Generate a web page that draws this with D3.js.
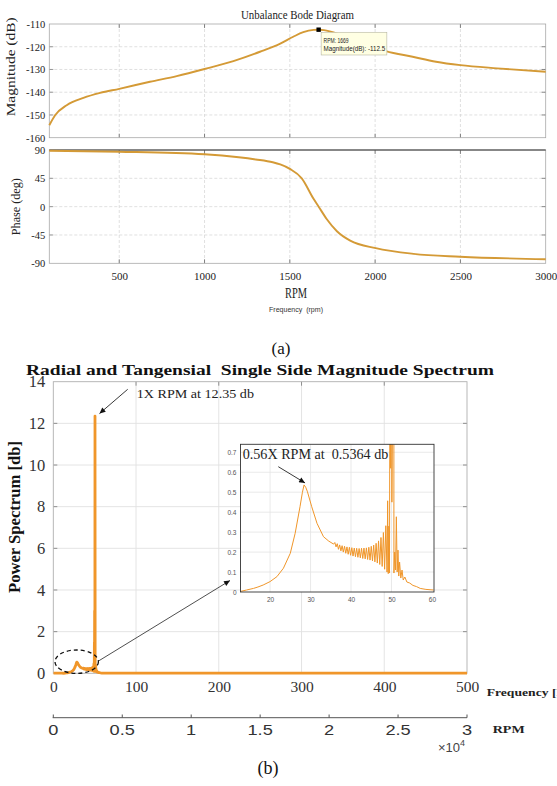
<!DOCTYPE html>
<html><head><meta charset="utf-8">
<script src="https://cdn.jsdelivr.net/npm/d3@7"></script>
<style>
body{margin:0;background:#fff;}
svg{display:block;}
</style></head><body>
<svg id="chart" width="557" height="786"></svg>
<script>
// ---------------- DATA ----------------
// (a) Unbalance Bode diagram
const magPoints = [
  [90,-154.5],[124,-150.1],[192,-145.7],[290,-142.5],[388,-140.3],[500,-138.5],
  [680,-135.4],[837,-132.9],[1000,-129.8],[1169,-126.3],[1325,-122.2],[1444,-118.6],
  [1520,-115.6],[1579,-113.6],[1640,-112.6],[1669,-112.5],[1700,-112.7],[1800,-114.8],
  [1900,-117.6],[2000,-120.3],[2064,-121.9],[2220,-124.4],[2357,-126.6],[2500,-128.1],
  [2715,-129.5],[3000,-131.0]
];
const phasePoints = [
  [90,88.9],[500,87.3],[1000,83.2],[1200,78.5],[1300,75],[1400,70.5],[1444,67],[1500,60],
  [1570,45],[1640,12],[1669,0],[1717,-20],[1776,-39],[1854,-54],[2004,-66],
  [2225,-75],[2498,-79.5],[3000,-83.5]
];
const bodeXTicks = [500,1000,1500,2000,2500,3000];
const magTicks = [-160,-150,-140,-130,-120,-110];
const phaseTicks = [-90,-45,0,45,90];
const peakRPM = 1669, peakDB = -112.5;

// (b) Single side magnitude spectrum [Hz, db]
const spectrumPoints = [
  [0,0.005],[5,0.005],[10,0.005],[12.7,0.003],[14.2,0.010],[15.9,0.018],[17.0,0.025],
  [18.3,0.035],[20.0,0.052],[21.7,0.077],[23.3,0.119],[25.0,0.194],[26.2,0.294],
  [27.4,0.427],[28.0,0.500],[28.4,0.5364],[28.8,0.525],[29.2,0.505],[30.3,0.427],
  [31.6,0.344],[33.2,0.277],[34.5,0.255],[35.7,0.240],
  [36.0,0.248],[36.3,0.226],[36.6,0.242],[36.9,0.214],[37.2,0.236],[37.5,0.206],
  [37.8,0.232],[38.1,0.200],[38.4,0.229],[38.7,0.194],[39.0,0.226],[39.3,0.189],
  [39.6,0.224],[39.9,0.184],[40.2,0.222],[40.5,0.180],[40.8,0.220],[41.1,0.177],
  [41.4,0.219],[41.7,0.174],[42.0,0.218],[42.3,0.171],[42.6,0.219],[42.9,0.168],
  [43.2,0.220],[43.5,0.166],[43.8,0.221],[44.1,0.163],[44.4,0.224],[44.7,0.160],
  [45.0,0.229],[45.3,0.156],[45.6,0.235],[45.9,0.151],[46.2,0.244],[46.5,0.145],
  [46.8,0.256],[47.1,0.138],[47.4,0.273],[47.7,0.128],[48.0,0.298],[48.3,0.114],
  [48.6,0.332],[48.9,0.100],[49.05,0.457],[49.2,0.092],[49.35,0.330],[49.5,0.095],
  [49.65,1.5],[49.8,0.62],[49.95,3.0],[50.1,0.45],[50.25,0.9],[50.4,12.35],
  [50.6,0.095],[50.8,0.200],[51.0,0.110],[51.2,0.377],[51.4,0.100],[51.6,0.210],
  [51.8,0.080],[52.0,0.150],[52.3,0.070],[52.6,0.110],[52.9,0.060],[53.3,0.075],
  [53.8,0.050],[54.5,0.045],[55.3,0.033],[56.2,0.027],[57.1,0.018],[58.5,0.013],
  [60.4,0.010],[62,0.008],[70,0.005],[100,0.004],[200,0.004],[300,0.004],[400,0.004],[500,0.004]
];
const specXTicks = [0,100,200,300,400,500];
const specYTicks = [0,2,4,6,8,10,12,14];
const rpmTicks = [0,0.5,1,1.5,2,2.5,3];
const insetXTicks = [20,30,40,50,60];
const insetYTicks = [0,0.1,0.2,0.3,0.4,0.5,0.6,0.7];
const peak1X = 12.35, peak1XHz = 50.4;
const peakHalf = 0.5364, peakHalfHz = 28.4;

// ---------------- DRAW ----------------
const SERIF = '"Liberation Serif","Times New Roman",serif';
const SANS = '"Liberation Sans",Arial,sans-serif';
const COLOR_TOP = "#D49A36";
const COLOR_BOT = "#F0962A";
const svg = d3.select("#chart");

const defs = svg.append("defs");
defs.append("marker").attr("id","arr").attr("viewBox","0 0 10 10")
  .attr("refX",10).attr("refY",5).attr("markerUnits","userSpaceOnUse")
  .attr("markerWidth",7).attr("markerHeight",6).attr("orient","auto")
  .append("path").attr("d","M0,0.5 L10,5 L0,9.5 z").attr("fill","#111");

function fit(sel, len){ return sel.attr("textLength",len).attr("lengthAdjust","spacingAndGlyphs"); }
function stretch(sel, k){
  sel.each(function(){ const w=this.getComputedTextLength();
    d3.select(this).attr("textLength",w*k).attr("lengthAdjust","spacingAndGlyphs"); });
}
function styleAxis(a, size, fam, fill){
  a.select(".domain").remove();
  a.attr("font-family",null).attr("font-size",null);
  a.selectAll("text").attr("font-size",size).style("font-family",fam).attr("fill",fill);
}

// ===== (a) =====
const xA = d3.scaleLinear().domain([90,3000]).range([49.3,545.7]);
const yM = d3.scaleLinear().domain([-160,-110]).range([137.7,24]);
const yP = d3.scaleLinear().domain([-90,90]).range([263.3,150]);
const [ax0, ax1] = xA.range();

function bodePanel(yS, yTicks, darkTop){
  const [yb, yt] = yS.range();
  const g = svg.append("g");
  g.append("rect").attr("x",ax0).attr("y",yt).attr("width",ax1-ax0).attr("height",yb-yt).attr("fill","#fff");
  g.selectAll(".vg").data(bodeXTicks.filter(d=>d<3000)).join("line")
    .attr("x1",d=>xA(d)).attr("x2",d=>xA(d)).attr("y1",yt).attr("y2",yb)
    .attr("stroke","#d2d2d2").attr("stroke-width",0.7).attr("stroke-dasharray","3,2");
  g.selectAll(".hg").data(yTicks.slice(1,-1)).join("line")
    .attr("x1",ax0).attr("x2",ax1).attr("y1",d=>yS(d)).attr("y2",d=>yS(d))
    .attr("stroke","#d2d2d2").attr("stroke-width",0.7).attr("stroke-dasharray","3,2");
  const tk = bodeXTicks.filter(d=>d<3000);
  g.selectAll(".tb").data(tk).join("line").attr("x1",d=>xA(d)).attr("x2",d=>xA(d))
    .attr("y1",yb).attr("y2",yb-4).attr("stroke","#555").attr("stroke-width",0.7);
  g.selectAll(".tt").data(tk).join("line").attr("x1",d=>xA(d)).attr("x2",d=>xA(d))
    .attr("y1",yt).attr("y2",yt+4).attr("stroke","#555").attr("stroke-width",0.7);
  g.selectAll(".tr").data(yTicks.slice(1,-1)).join("line").attr("x1",ax1).attr("x2",ax1-4)
    .attr("y1",d=>yS(d)).attr("y2",d=>yS(d)).attr("stroke","#555").attr("stroke-width",0.7);
  g.selectAll(".tl").data(yTicks.slice(1,-1)).join("line").attr("x1",ax0).attr("x2",ax0+4)
    .attr("y1",d=>yS(d)).attr("y2",d=>yS(d)).attr("stroke","#777").attr("stroke-width",0.7);
  g.append("rect").attr("x",ax0).attr("y",yt).attr("width",ax1-ax0).attr("height",yb-yt)
    .attr("fill","none").attr("stroke","#a8a8a8").attr("stroke-width",0.8);
  if (darkTop) g.append("line").attr("x1",ax0).attr("x2",ax1).attr("y1",yt).attr("y2",yt)
    .attr("stroke","#333").attr("stroke-width",1);
  g.append("g").attr("transform",`translate(${ax0},0)`)
    .call(d3.axisLeft(yS).tickValues(yTicks).tickSize(0).tickPadding(4).tickFormat(d=>String(d)))
    .call(a=>styleAxis(a,10.5,SERIF,"#222"));
  return g;
}
bodePanel(yM, magTicks, false);
bodePanel(yP, phaseTicks, true);

svg.append("path").datum(magPoints)
  .attr("d", d3.line().x(d=>xA(d[0])).y(d=>yM(d[1])).curve(d3.curveMonotoneX))
  .attr("fill","none").attr("stroke",COLOR_TOP).attr("stroke-width",1.9);
svg.append("path").datum(phasePoints)
  .attr("d", d3.line().x(d=>xA(d[0])).y(d=>yP(d[1])).curve(d3.curveMonotoneX))
  .attr("fill","none").attr("stroke",COLOR_TOP).attr("stroke-width",1.9);

svg.append("g").attr("transform",`translate(0,${yP.range()[0]})`)
  .call(d3.axisBottom(xA).tickValues(bodeXTicks).tickSize(0).tickPadding(9).tickFormat(d=>String(d)))
  .call(a=>styleAxis(a,11,SERIF,"#222"));

fit(svg.append("text").attr("x",(ax0+ax1)/2).attr("y",19).attr("text-anchor","middle")
  .style("font-family",SERIF).attr("font-size",13).attr("fill","#222").text("Unbalance Bode Diagram"),113);
fit(svg.append("text").attr("transform",`translate(15,${(yM(-110)+yM(-160))/2 - 14}) rotate(-90)`)
  .attr("text-anchor","middle").style("font-family",SERIF).attr("font-size",13).attr("fill","#222")
  .text("Magnitude (dB)"),99);
fit(svg.append("text").attr("transform",`translate(20,${yP(0)}) rotate(-90)`)
  .attr("text-anchor","middle").style("font-family",SERIF).attr("font-size",13).attr("fill","#222")
  .text("Phase (deg)"),57);
fit(svg.append("text").attr("x",296).attr("y",298).attr("text-anchor","middle")
  .style("font-family",SERIF).attr("font-size",14).attr("fill","#222").text("RPM"),22);
fit(svg.append("text").attr("x",296).attr("y",312.3).attr("text-anchor","middle")
  .style("font-family",SANS).attr("font-size",6.5).attr("fill","#333").style("white-space","pre").text("Frequency  (rpm)"),54);

// data tip
svg.append("rect").attr("x",xA(peakRPM)-2.2).attr("y",yM(peakDB)-2.2).attr("width",4.4).attr("height",4.4).attr("fill","#000");
svg.append("rect").attr("x",xA(peakRPM)+2.5).attr("y",yM(peakDB)+2.6).attr("width",65.7).attr("height",22.7)
  .attr("fill","#ffffe3").attr("stroke","#b5b5a0").attr("stroke-width",0.6);
fit(svg.append("text").attr("x",xA(peakRPM)+4.9).attr("y",yM(peakDB)+13.4)
  .style("font-family",SANS).attr("font-size",6.3).attr("fill","#222").text("RPM: " + peakRPM),25);
fit(svg.append("text").attr("x",xA(peakRPM)+4.9).attr("y",yM(peakDB)+21.8)
  .style("font-family",SANS).attr("font-size",6.3).attr("fill","#222").text("Magnitude(dB): " + peakDB),61.6);

svg.append("text").attr("x",281).attr("y",353.5).attr("text-anchor","middle")
  .style("font-family",SERIF).attr("font-size",17).attr("fill","#111").text("(a)");

// ===== (b) =====
const xB = d3.scaleLinear().domain([0,500]).range([53.3,467]);
const yB = d3.scaleLinear().domain([0,14]).range([673.3,381.7]);
const [bx0,bx1] = xB.range(), [by0,by1] = yB.range();
const gb = svg.append("g");
gb.append("rect").attr("x",bx0).attr("y",by1).attr("width",bx1-bx0).attr("height",by0-by1).attr("fill","#fff");
gb.selectAll(".vg").data(specXTicks.slice(1,-1)).join("line")
  .attr("x1",d=>xB(d)).attr("x2",d=>xB(d)).attr("y1",by1).attr("y2",by0)
  .attr("stroke","#e1e1e1").attr("stroke-width",0.9);
gb.selectAll(".hg").data(specYTicks.slice(1,-1)).join("line")
  .attr("x1",bx0).attr("x2",bx1).attr("y1",d=>yB(d)).attr("y2",d=>yB(d))
  .attr("stroke","#e1e1e1").attr("stroke-width",0.9);
gb.selectAll(".tr").data(specYTicks.slice(1,-1)).join("line").attr("x1",bx1).attr("x2",bx1-4)
  .attr("y1",d=>yB(d)).attr("y2",d=>yB(d)).attr("stroke","#777").attr("stroke-width",0.8);
gb.selectAll(".tl").data(specYTicks.slice(1,-1)).join("line").attr("x1",bx0).attr("x2",bx0+4)
  .attr("y1",d=>yB(d)).attr("y2",d=>yB(d)).attr("stroke","#777").attr("stroke-width",0.8);
gb.selectAll(".tt").data(specXTicks.slice(1,-1)).join("line").attr("x1",d=>xB(d)).attr("x2",d=>xB(d))
  .attr("y1",by1).attr("y2",by1+4).attr("stroke","#777").attr("stroke-width",0.8);
gb.append("rect").attr("x",bx0).attr("y",by1).attr("width",bx1-bx0).attr("height",by0-by1)
  .attr("fill","none").attr("stroke","#b0b0b0").attr("stroke-width",0.9);

defs.append("clipPath").attr("id","mainClip").append("rect")
  .attr("x",bx0).attr("y",by1).attr("width",bx1-bx0).attr("height",by0-by1+3);
gb.append("path").datum(spectrumPoints).attr("clip-path","url(#mainClip)")
  .attr("d", d3.line().x(d=>xB(d[0])).y(d=>yB(d[1])))
  .attr("fill","none").attr("stroke",COLOR_BOT).attr("stroke-width",2.8).attr("stroke-linejoin","round");

gb.append("g").attr("transform",`translate(${bx0},0)`)
  .call(d3.axisLeft(yB).tickValues(specYTicks).tickSize(0).tickPadding(8).tickFormat(d=>String(d)))
  .call(a=>styleAxis(a,16.5,SERIF,"#333"));
gb.append("g").attr("transform",`translate(0,${by0})`)
  .call(d3.axisBottom(xB).tickValues(specXTicks).tickSize(0).tickPadding(8).tickFormat(d=>String(d)))
  .call(a=>styleAxis(a,15.5,SERIF,"#333"));

fit(svg.append("text").attr("x",260).attr("y",374.8).attr("text-anchor","middle")
  .style("font-family",SERIF).attr("font-weight","bold").attr("font-size",15).attr("fill","#111")
  .style("white-space","pre").text("Radial and Tangensial  Single Side Magnitude Spectrum"),468);
fit(svg.append("text").attr("transform",`translate(20,517) rotate(-90)`).attr("text-anchor","middle")
  .style("font-family",SERIF).attr("font-weight","bold").attr("font-size",16.5).attr("fill","#111")
  .text("Power Spectrum [db]"),152);
fit(svg.append("text").attr("x",486.7).attr("y",695.5)
  .style("font-family",SERIF).attr("font-weight","bold").attr("font-size",11).attr("fill","#222")
  .text("Frequency [Hz]"),91);

// 1X annotation
fit(svg.append("text").attr("x",136.7).attr("y",397.5)
  .style("font-family",SERIF).attr("font-size",13.5).attr("fill","#222").text("1X RPM at " + peak1X + " db"),117.3);
svg.append("line").attr("x1",127.7).attr("y1",389.3).attr("x2",xB(peak1XHz)+4.5).attr("y2",yB(peak1X)-2.5)
  .attr("stroke","#222").attr("stroke-width",0.9).attr("marker-end","url(#arr)");

// ellipse + arrow to inset
svg.append("ellipse").attr("cx",76.7).attr("cy",661.7).attr("rx",21.7).attr("ry",11.7)
  .attr("fill","none").attr("stroke","#111").attr("stroke-width",1.3).attr("stroke-dasharray","4,3");
svg.append("line").attr("x1",98.5).attr("y1",661).attr("x2",230).attr("y2",580.5)
  .attr("stroke","#222").attr("stroke-width",0.8).attr("marker-end","url(#arr)");

// RPM secondary axis
const xR = d3.scaleLinear().domain([0,3]).range([53.3,467]);
svg.append("line").attr("x1",52.7).attr("x2",467).attr("y1",717.7).attr("y2",717.7).attr("stroke","#555").attr("stroke-width",1);
svg.selectAll(".rt").data(rpmTicks).join("line").attr("x1",d=>xR(d)).attr("x2",d=>xR(d))
  .attr("y1",717.7).attr("y2",714.5).attr("stroke","#555").attr("stroke-width",1);
svg.selectAll(".rl").data(rpmTicks).join("text").attr("x",d=>xR(d)).attr("y",735)
  .attr("text-anchor","middle").style("font-family",SANS).attr("font-size",14).attr("fill","#333")
  .text(d=>String(d)).call(s=>stretch(s,1.3));
fit(svg.append("text").attr("x",492.7).attr("y",733.3)
  .style("font-family",SERIF).attr("font-weight","bold").attr("font-size",11).attr("fill","#222").text("RPM"),32);
const expo = svg.append("text").attr("x",438).attr("y",751.5).style("font-family",SANS).attr("font-size",13).attr("fill","#444");
expo.append("tspan").text("\u00d710");
expo.append("tspan").attr("dy",-6).attr("font-size",9).text("4");

svg.append("text").attr("x",268).attr("y",774).attr("text-anchor","middle")
  .style("font-family",SERIF).attr("font-size",18).attr("fill","#111").text("(b)");

// ===== inset =====
const xI = d3.scaleLinear().domain([12.7,60.5]).range([240.5,434]);
const yI = d3.scaleLinear().domain([0,0.74]).range([592,444.3]);
const [ix0,ix1] = xI.range(), [iy0,iy1] = yI.range();
const gi = svg.append("g");
gi.append("rect").attr("x",ix0).attr("y",iy1).attr("width",ix1-ix0).attr("height",iy0-iy1).attr("fill","#fff");
gi.selectAll(".vg").data(insetXTicks.filter(d=>d<60)).join("line")
  .attr("x1",d=>xI(d)).attr("x2",d=>xI(d)).attr("y1",iy1).attr("y2",iy0)
  .attr("stroke","#e3e3e3").attr("stroke-width",0.8);
gi.selectAll(".hg").data(insetYTicks.slice(1)).join("line")
  .attr("x1",ix0).attr("x2",ix1).attr("y1",d=>yI(d)).attr("y2",d=>yI(d))
  .attr("stroke","#e3e3e3").attr("stroke-width",0.8);
defs.append("clipPath").attr("id","insetClip").append("rect")
  .attr("x",ix0).attr("y",iy1).attr("width",ix1-ix0).attr("height",iy0-iy1);
gi.append("path").datum(spectrumPoints.filter(d=>d[0]>=12 && d[0]<=61)).attr("clip-path","url(#insetClip)")
  .attr("d", d3.line().x(d=>xI(d[0])).y(d=>yI(d[1])))
  .attr("fill","none").attr("stroke",COLOR_BOT).attr("stroke-width",1);
gi.append("rect").attr("x",ix0).attr("y",iy1).attr("width",ix1-ix0).attr("height",iy0-iy1)
  .attr("fill","none").attr("stroke","#333").attr("stroke-width",0.9);
gi.append("g").attr("transform",`translate(${ix0},0)`)
  .call(d3.axisLeft(yI).tickValues(insetYTicks).tickSize(0).tickPadding(4).tickFormat(d=>String(d)))
  .call(a=>styleAxis(a,6.5,SANS,"#555"));
gi.append("g").attr("transform",`translate(0,${iy0})`)
  .call(d3.axisBottom(xI).tickValues(insetXTicks).tickSize(0).tickPadding(5).tickFormat(d=>String(d)))
  .call(a=>styleAxis(a,6.5,SANS,"#555"));
fit(gi.append("text").attr("x",242.7).attr("y",458.5).style("white-space","pre")
  .style("font-family",SERIF).attr("font-size",14).attr("fill","#222")
  .text("0.56X RPM at  " + peakHalf + " db"),145.6);
gi.append("line").attr("x1",278.3).attr("y1",466.7).attr("x2",xI(peakHalfHz)+1).attr("y2",yI(peakHalf)-2)
  .attr("stroke","#222").attr("stroke-width",0.9).attr("marker-end","url(#arr)");
</script>
</body></html>
